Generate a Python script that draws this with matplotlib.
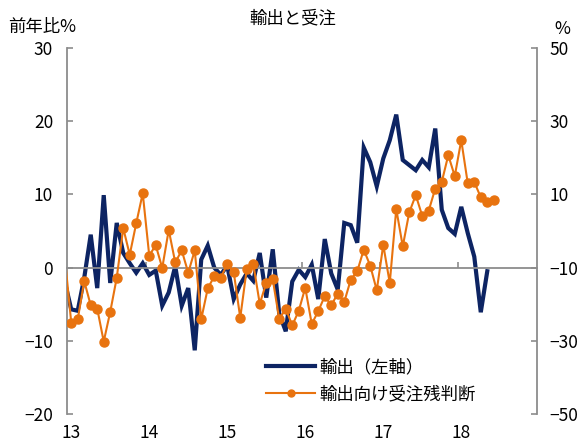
import numpy as np
import pandas as pd
import matplotlib
matplotlib.use('Agg')
from matplotlib import pyplot as plt
from matplotlib.lines import Line2D

plt.rcParams['font.family'] = ['Noto Sans CJK JP', 'DejaVu Sans']

# monthly series, Dec 2012 onwards
export_yoy = [-1.9, -5.7, -5.9, -1.4, 4.5, -2.8, 9.9, -2.1, 6.1, 2.0, 0.6, -0.7,
              0.6, -1.0, -0.4, -5.2, -3.4, 0.2, -5.2, -2.8, -11.3, 1.1, 3.0, 0.0,
              -1.0, 0.3, -4.3, -2.3, -0.8, -1.8, 2.0, -4.1, 2.5, -6.3, -8.7, -1.9,
              -0.3, -1.3, 0.4, -4.3, 3.9, -0.8, -3.0, 6.1, 5.8, 3.4, 16.4, 14.4,
              11.1, 14.9, 17.4, 20.9, 14.7, 14.0, 13.3, 14.7, 13.7, 19.0, 7.9, 5.4,
              4.6, 8.3, 4.7, 1.5, -6.1, -0.5]
order_backlog = [-7.0, -25.0, -24.1, -13.7, -20.3, -21.2, -30.2, -22.1, -12.8, 0.8, -6.5, 2.1,
                 10.3, -6.7, -3.9, -10.1, 0.3, -8.6, -5.3, -11.4, -5.3, -24.1, -15.7, -12.4,
                 -12.8, -9.0, -11.3, -23.7, -10.4, -8.9, -19.9, -14.2, -13.2, -24.1, -21.2, -25.8,
                 -21.8, -15.5, -25.4, -21.9, -17.8, -20.3, -17.1, -19.4, -13.3, -11.0, -5.1, -9.5,
                 -16.2, -3.8, -14.2, 6.0, -4.2, 5.1, 9.8, 4.1, 5.6, 11.6, 13.4, 20.7,
                 15.0, 24.8, 13.0, 13.4, 9.2, 7.9, 8.5]
year_labels = ['13', '14', '15', '16', '17', '18']

start = pd.Period('2013-01', freq='M')
def month_index(n):
    periods = pd.period_range('2012-12', periods=n, freq='M')
    return np.array([(p - start).n for p in periods])

x_exp = month_index(len(export_yoy))
x_ord = month_index(len(order_backlog))

navy = '#0D2463'
orange = '#E8730F'
gray = '#8C8C8C'
fs = 12.5

fig = plt.figure(figsize=(5.86, 4.44), dpi=100)
ax = fig.add_axes([67 / 586, 30 / 444, 470 / 586, 366 / 444])
ax2 = ax.twinx()

ax.plot(x_exp, export_yoy, color=navy, lw=3.0, solid_joinstyle='miter')
# Dec 2012 point sits outside the axis, only its line segment shows
ax2.plot(x_ord, order_backlog, color=orange, lw=1.5, marker='o', ms=6.5,
         markevery=slice(1, None))

ax.set_xlim(-0.65, 71.65)
ax.set_ylim(-20, 30)
ax.set_yticks(np.arange(-20, 31, 10))
ax2.set_ylim(-50, 50)
ax2.set_yticks(np.arange(-50, 51, 20))

# spines
for a in (ax, ax2):
    a.spines['top'].set_visible(False)
ax.spines['right'].set_visible(False)
ax2.spines['left'].set_visible(False)
ax2.spines['bottom'].set_visible(False)
ax.spines['bottom'].set_position(('data', 0))
for s in (ax.spines['left'], ax.spines['bottom'], ax2.spines['right']):
    s.set_color(gray)
    s.set_linewidth(1.3)

# year boundary ticks on the zero line, labels at January below the plot
n_years = len(year_labels)
ax.set_xticks(np.arange(1, n_years) * 12 - 0.5)
ax.tick_params(axis='x', direction='in', length=4, color=gray, width=1.2, labelbottom=False)
sec = ax.secondary_xaxis('bottom')
sec.spines['bottom'].set_visible(False)
sec.set_xticks(np.arange(n_years) * 12, year_labels)
sec.tick_params(length=0, pad=7, labelsize=fs)

ax.tick_params(axis='y', direction='in', length=4, color=gray, width=1.2, pad=10, labelsize=fs)
ax2.tick_params(axis='y', direction='in', length=4, color=gray, width=1.2, pad=9, labelsize=fs)

fig.text(0.5, 1 - 18 / 444, '輸出と受注', ha='center', va='center', fontsize=fs)
fig.text(8 / 586, 1 - 27 / 444, '前年比%', ha='left', va='center', fontsize=fs)
fig.text(562 / 586, 1 - 29 / 444, '%', ha='center', va='center', fontsize=fs)

handles = [Line2D([], [], color=navy, lw=3.0),
           Line2D([], [], color=orange, lw=1.5, marker='o', ms=5)]
ax2.legend(handles, ['輸出（左軸）', '輸出向け受注残判断'], loc='upper left',
           bbox_to_anchor=(0.424, 0.153), frameon=False, fontsize=fs,
           handlelength=2.8, handletextpad=0.25, labelspacing=0.55,
           borderpad=0, borderaxespad=0)

fig.savefig('out.png', dpi=100)
